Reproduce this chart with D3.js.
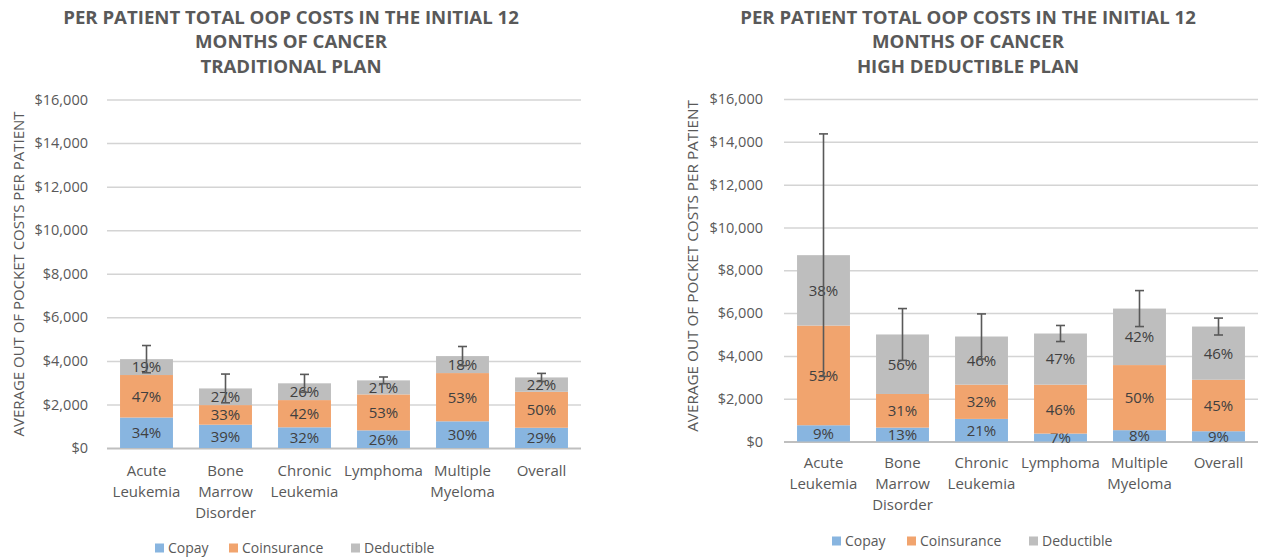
<!DOCTYPE html>
<html>
<head>
<meta charset="utf-8">
<script src="https://cdn.jsdelivr.net/npm/d3@7"></script>
<style>
  body { margin: 0; background: #fff; }
  svg { display: block; font-family: "Open Sans", sans-serif; }
</style>
</head>
<body>
<svg id="chart" width="1261" height="558"></svg>
<script>
// categorias y series
const categories = ["Acute\nLeukemia", "Bone\nMarrow\nDisorder", "Chronic\nLeukemia", "Lymphoma", "Multiple\nMyeloma", "Overall"];
const seriesNames = ["Copay", "Coinsurance", "Deductible"];
const yTicks = [0, 2000, 4000, 6000, 8000, 10000, 12000, 14000, 16000];

// plan tradicional
const tradCopay  = [1400, 1070, 950, 810, 1225, 930];
const tradCoins  = [1950, 900, 1250, 1650, 2215, 1650];
const tradDeduct = [730, 765, 770, 645, 780, 660];
const tradError  = [625, 660, 410, 155, 440, 185];
const tradCopayPct  = ["34%", "39%", "32%", "26%", "30%", "29%"];
const tradCoinsPct  = ["47%", "33%", "42%", "53%", "53%", "50%"];
const tradDeductPct = ["19%", "27%", "26%", "21%", "18%", "22%"];

// plan deducible alto
const hdCopay  = [760, 650, 1055, 370, 530, 480];
const hdCoins  = [4655, 1570, 1600, 2285, 3040, 2405];
const hdDeduct = [3290, 2780, 2250, 2390, 2640, 2485];
const hdError  = [5665, 1210, 1055, 375, 840, 395];
const hdCopayPct  = ["9%", "13%", "21%", "7%", "8%", "9%"];
const hdCoinsPct  = ["53%", "31%", "32%", "46%", "50%", "45%"];
const hdDeductPct = ["38%", "56%", "46%", "47%", "42%", "46%"];

const titleLines = ["PER PATIENT TOTAL OOP COSTS IN THE INITIAL 12", "MONTHS OF CANCER"];
const yLabel = "AVERAGE OUT OF POCKET COSTS PER PATIENT";

const COLORS = ["#88b5e0", "#f1a46e", "#bebebe"];
const TEXT = "#595959";

const svg = d3.select('#chart');

function drawPanel(cfg) {
  const g = svg.append('g');

  const x = d3.scaleBand()
    .domain(categories)
    .range([cfg.left, cfg.right])
    .paddingInner(0.33)
    .paddingOuter(0.165);
  const y = d3.scaleLinear().domain([0, 16000]).range([cfg.bottom, cfg.top]);

  // grilla y eje
  const axis = d3.axisLeft(y)
    .tickValues(yTicks)
    .tickSize(-(cfg.right - cfg.left))
    .tickPadding(cfg.tickPad)
    .tickFormat(d3.format("$,"));
  const ax = g.append('g')
    .attr('transform', `translate(${cfg.left},0)`)
    .call(axis);
  ax.select('.domain').remove();
  ax.selectAll('line')
    .attr('stroke', d => d === 0 ? '#bfbfbf' : '#d4d4d4')
    .attr('stroke-width', d => d === 0 ? 2 : 1.5);
  ax.selectAll('text')
    .attr('fill', TEXT)
    .style('font-size', '14.5px')
    .style('font-family', '"Open Sans", sans-serif');

  // datos apilados
  const rows = categories.map((c, i) => ({
    cat: c, Copay: cfg.copay[i], Coinsurance: cfg.coins[i], Deductible: cfg.deduct[i]
  }));
  const stacked = d3.stack().keys(seriesNames)(rows);
  const pcts = [cfg.copayPct, cfg.coinsPct, cfg.deductPct];

  const layers = g.selectAll('.layer')
    .data(stacked)
    .enter().append('g')
      .attr('class', 'layer')
      .attr('fill', (d, i) => COLORS[i]);

  layers.selectAll('rect')
    .data(d => d)
    .enter().append('rect')
      .attr('x', d => x(d.data.cat))
      .attr('y', d => y(d[1]))
      .attr('width', x.bandwidth())
      .attr('height', d => y(d[0]) - y(d[1]));

  layers.each(function(layer, li) {
    d3.select(this).selectAll('text')
      .data(layer)
      .enter().append('text')
        .attr('x', d => x(d.data.cat) + x.bandwidth() / 2)
        .attr('y', d => (y(d[0]) + y(d[1])) / 2)
        .attr('dy', '0.36em')
        .attr('text-anchor', 'middle')
        .attr('fill', '#404040')
        .style('font-size', '15px')
        .text((d, i) => pcts[li][i]);
  });

  // barras de error
  const errG = g.append('g')
    .attr('stroke', '#595959')
    .attr('stroke-width', 1.6)
    .attr('fill', 'none');
  rows.forEach((r, i) => {
    const total = r.Copay + r.Coinsurance + r.Deductible;
    const cx = x(r.cat) + x.bandwidth() / 2;
    const y1 = y(total + cfg.err[i]);
    const y2 = y(total - cfg.err[i]);
    errG.append('line').attr('x1', cx).attr('x2', cx).attr('y1', y1).attr('y2', y2);
    errG.append('line').attr('x1', cx - 4.5).attr('x2', cx + 4.5).attr('y1', y1).attr('y2', y1);
    errG.append('line').attr('x1', cx - 4.5).attr('x2', cx + 4.5).attr('y1', y2).attr('y2', y2);
  });

  // etiquetas de categoria
  categories.forEach(c => {
    const t = g.append('text')
      .attr('text-anchor', 'middle')
      .attr('fill', TEXT)
      .style('font-size', '15px');
    c.split('\n').forEach((line, li) => {
      t.append('tspan')
        .attr('x', x(c) + x.bandwidth() / 2)
        .attr('y', cfg.bottom + cfg.catDy + li * 21)
        .attr('dy', '0.35em')
        .text(line);
    });
  });

  // titulo
  const title = g.append('text')
    .attr('text-anchor', 'middle')
    .attr('fill', TEXT)
    .style('font-weight', 'bold')
    .style('font-size', '17px');
  titleLines.concat([cfg.subtitle]).forEach((line, li) => {
    title.append('tspan')
      .attr('x', cfg.titleX)
      .attr('y', 17 + li * 24.5)
      .attr('dy', '0.35em')
      .text(line);
  });
  const firstLen = title.select('tspan').node().getComputedTextLength();
  title.style('font-size', (17 * cfg.titleW / firstLen) + 'px');

  // titulo eje y
  const yt = g.append('text')
    .attr('transform', `translate(${cfg.yTitleX},${cfg.yTitleY}) rotate(-90)`)
    .attr('text-anchor', 'middle')
    .attr('dy', '0.35em')
    .attr('fill', TEXT)
    .style('font-size', '14px')
    .text(yLabel);
  const yLen = yt.node().getComputedTextLength();
  yt.style('font-size', (14 * cfg.yTitleW / yLen) + 'px');

  // leyenda
  const leg = g.append('g');
  seriesNames.forEach((s, i) => {
    leg.append('rect')
      .attr('x', cfg.legendX[i])
      .attr('y', cfg.legendY - 4.5)
      .attr('width', 9)
      .attr('height', 9)
      .attr('fill', COLORS[i]);
    leg.append('text')
      .attr('x', cfg.legendX[i] + 13)
      .attr('y', cfg.legendY)
      .attr('dy', '0.35em')
      .attr('fill', TEXT)
      .style('font-size', '14px')
      .text(s);
  });
}

drawPanel({
  left: 107, right: 581, top: 99.5, bottom: 448, tickPad: 19,
  copay: tradCopay, coins: tradCoins, deduct: tradDeduct, err: tradError,
  copayPct: tradCopayPct, coinsPct: tradCoinsPct, deductPct: tradDeductPct,
  subtitle: "TRADITIONAL PLAN", titleX: 291, titleW: 456,
  catDy: 22.5, yTitleX: 19, yTitleY: 274, yTitleW: 325,
  legendX: [155, 229, 351], legendY: 548
});

drawPanel({
  left: 784, right: 1258, top: 99, bottom: 441.5, tickPad: 21,
  copay: hdCopay, coins: hdCoins, deduct: hdDeduct, err: hdError,
  copayPct: hdCopayPct, coinsPct: hdCoinsPct, deductPct: hdDeductPct,
  subtitle: "HIGH DEDUCTIBLE PLAN", titleX: 968, titleW: 456,
  catDy: 21.5, yTitleX: 693, yTitleY: 266, yTitleW: 332,
  legendX: [832, 907, 1029], legendY: 541
});
</script>
</body>
</html>
